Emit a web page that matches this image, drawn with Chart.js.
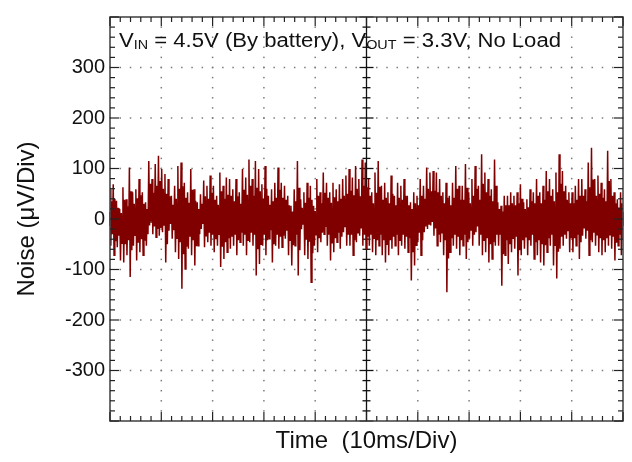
<!DOCTYPE html>
<html><head><meta charset="utf-8">
<script src="https://cdn.jsdelivr.net/npm/chart.js@4.4.1/dist/chart.umd.min.js"></script>
<style>html,body{margin:0;padding:0;background:#fff}#wrap{width:632px;height:462px}</style>
</head><body><div id="wrap"><canvas id="c" width="632" height="462"></canvas></div>
<script>
// Major divisions (10 ms/div on time, 100 uV/div on noise)
const timeDivs = [0,10,20,30,40,50,60,70,80,90,100];
const noiseTicks = [-400,-300,-200,-100,0,100,200,300,400];

// Noise trace: per time slot, the outer upper / lower spikes (uV)
const noiseHigh = [
  59,69,36,20,63,39,102,53,59,79,53,33,115,79,109,125,99,89,79,46,66,105,112,72,53,99,59,33,49,76,66,86,66,46,92,66,82,79,59,
  79,53,99,82,118,79,115,99,69,105,46,59,72,102,72,66,46,26,59,115,39,53,72,66,26,79,53,92,72,53,72,59,69,79,86,99,82,105,79,118,112,
  79,53,92,115,66,72,53,86,46,72,66,79,46,33,53,46,79,66,102,92,95,92,79,53,72,46,72,105,66,66,109,53,79,105,66,128,92,79,59,118,
  33,26,46,46,53,46,53,69,33,39,59,53,79,53,66,95,79,59,92,128,95,66,53,53,66,79,79,59,112,141,79,86,72,59,135,79,53,39,53
];
const noiseLow = [
  -53,-72,-56,-82,-86,-72,-115,-53,-82,-66,-72,-53,-13,-30,-36,-33,-26,-86,-23,-39,-66,-79,-138,-99,-59,-72,-92,-53,-20,-56,-46,-53,-66,-53,-95,-79,-66,-59,-53,
  -72,-46,-53,-72,-46,-53,-112,-89,-53,-72,-39,-86,-53,-59,-56,-39,-72,-92,-53,-112,-20,-72,-79,-125,-53,-66,-46,-30,-53,-82,-66,-46,-59,-26,-53,-53,-72,-46,-33,-53,-59,
  -53,-66,-72,-53,-72,-86,-72,-59,-53,-72,-53,-59,-66,-122,-92,-46,-72,-26,-20,-13,-33,-53,-46,-72,-145,-66,-53,-59,-72,-53,-79,-39,-53,-26,-53,-72,-66,-86,-79,-53,
  -53,-132,-72,-89,-66,-59,-112,-72,-59,-72,-53,-79,-72,-86,-92,-66,-53,-92,-118,-59,-53,-39,-66,-66,-53,-79,-33,-39,-72,-46,-53,-66,-72,-66,-53,-59,-82,-53,-72
];
// ... and the edges of the solid inner band at the same slots (uV)
const bandHigh = [
  35,40,22,12,38,25,55,30,41,47,30,20,70,52,66,75,60,50,45,28,40,60,65,42,32,58,36,20,30,45,40,52,38,28,55,40,48,46,35,
  45,30,58,48,66,46,62,55,40,60,28,35,42,58,42,38,27,15,35,62,22,32,42,38,16,46,31,52,42,32,43,35,40,46,50,56,47,60,45,66,63,
  46,31,52,64,38,42,31,50,27,42,38,46,27,20,31,27,46,40,60,55,56,53,46,31,42,27,42,60,38,38,62,31,46,60,38,70,53,46,35,66,
  20,15,27,27,31,27,31,40,20,23,35,31,46,31,38,55,46,35,53,70,55,38,31,31,38,46,46,35,63,78,46,50,42,35,75,46,31,23,31
];
const bandLow = [
  -30,-44,-33,-48,-50,-42,-62,-32,-47,-40,-43,-30,-5,-15,-20,-18,-12,-50,-10,-22,-38,-46,-70,-55,-35,-42,-54,-30,-10,-33,-27,-31,-40,-30,-55,-46,-38,-35,-31,
  -42,-27,-31,-42,-27,-31,-60,-50,-31,-42,-22,-50,-31,-35,-33,-23,-42,-52,-31,-62,-10,-41,-45,-68,-31,-38,-27,-16,-31,-47,-38,-27,-35,-15,-31,-31,-42,-27,-19,-31,-35,
  -31,-38,-42,-31,-42,-50,-42,-35,-31,-42,-31,-35,-38,-66,-52,-27,-42,-15,-10,-6,-19,-31,-27,-42,-78,-38,-31,-35,-42,-31,-46,-22,-31,-15,-31,-42,-38,-50,-46,-31,
  -31,-70,-42,-50,-38,-35,-62,-42,-35,-42,-31,-46,-42,-50,-52,-38,-31,-52,-65,-35,-31,-23,-38,-38,-31,-46,-19,-23,-42,-27,-31,-38,-42,-38,-31,-35,-47,-31,-42
];

const titleParts = [['V',0],['IN',1],[' = 4.5V (By battery), V',0],['OUT',1],[' = 3.3V, No Load',0]];
const yTitle = 'Noise (\u03BCV/Div)';
const xTitle = 'Time  (10ms/Div)';

// order the readings along the time axis: spike up, spike down, band top, band bottom
const trace = [];
for (let i = 0; i < noiseHigh.length; i++) {
  trace.push(noiseHigh[i]); trace.push(noiseLow[i]); trace.push(bandHigh[i]); trace.push(bandLow[i]);
}
const tStart = timeDivs[0], tEnd = timeDivs[timeDivs.length-1];
const points = trace.map((v, i) => ({x: tStart + (tEnd - tStart) * i / (trace.length - 1), y: v}));

function minorList(arr) {
  const out = [];
  for (let i = 0; i < arr.length - 1; i++) for (let k = 0; k < 5; k++) out.push(arr[i] + (arr[i+1]-arr[i]) * k / 5);
  out.push(arr[arr.length-1]);
  return out;
}
const FONT = '"Liberation Sans", Arial, sans-serif';

const scope = {
  id: 'scope',
  beforeDatasetsDraw(chart) {
    const {ctx, chartArea: a, scales: {x, y}} = chart;
    const xm = minorList(timeDivs), ym = minorList(noiseTicks);
    const midT = timeDivs[5], zeroV = 0;
    ctx.save();
    ctx.fillStyle = '#7c7c7c';
    timeDivs.slice(1,-1).forEach(tv => {
      if (tv === midT) return;
      const px = x.getPixelForValue(tv);
      ym.forEach(v => { const py = y.getPixelForValue(v); ctx.fillRect(px-0.75, py-0.75, 1.5, 1.5); });
    });
    noiseTicks.slice(1,-1).forEach(nv => {
      if (nv === zeroV) return;
      const py = y.getPixelForValue(nv);
      xm.forEach(t => { const px = x.getPixelForValue(t); ctx.fillRect(px-0.75, py-0.75, 1.5, 1.5); });
    });
    // crosshair
    const cx = x.getPixelForValue(midT), cy = y.getPixelForValue(zeroV);
    ctx.strokeStyle = '#111'; ctx.lineWidth = 1.3;
    const line = (x1,y1,x2,y2) => { ctx.beginPath(); ctx.moveTo(x1,y1); ctx.lineTo(x2,y2); ctx.stroke(); };
    line(cx, a.top, cx, a.bottom); line(a.left, cy, a.right, cy);
    xm.forEach((t, i) => { const px = x.getPixelForValue(t); const c = i % 5 === 0 ? 7 : 4; line(px, cy-c, px, cy+c); });
    ym.forEach((v, i) => { const py = y.getPixelForValue(v); const c = i % 5 === 0 ? 7 : 4; line(cx-c, py, cx+c, py); });
    ctx.restore();
  },
  afterDatasetsDraw(chart) {
    const {ctx, chartArea: a, scales: {x, y}} = chart;
    const xm = minorList(timeDivs), ym = minorList(noiseTicks);
    ctx.save();
    const line = (x1,y1,x2,y2) => { ctx.beginPath(); ctx.moveTo(x1,y1); ctx.lineTo(x2,y2); ctx.stroke(); };
    ctx.strokeStyle = '#4a4a4a'; ctx.lineWidth = 1.6;
    ctx.strokeRect(a.left, a.top, a.right - a.left, a.bottom - a.top);
    ctx.strokeStyle = '#222'; ctx.lineWidth = 1.2;
    xm.forEach((t, i) => { const px = x.getPixelForValue(t); const L = i % 5 === 0 ? 9 : 5; line(px, a.bottom, px, a.bottom-L); line(px, a.top, px, a.top+L); });
    ym.forEach((v, i) => { const py = y.getPixelForValue(v); const L = i % 5 === 0 ? 9 : 5; line(a.left, py, a.left+L, py); line(a.right, py, a.right-L, py); });
    // title inside plot with subscripts
    const mainF = '20px ' + FONT, subF = '13px ' + FONT;
    let w = 0;
    titleParts.forEach(([s, sub]) => { ctx.font = sub ? subF : mainF; w += ctx.measureText(s).width; });
    const target = 442, sx = target / w;
    ctx.translate(a.left + 9, 47);
    ctx.scale(sx, 1);
    ctx.fillStyle = '#111'; ctx.textBaseline = 'alphabetic'; ctx.textAlign = 'left';
    let xx = 0;
    titleParts.forEach(([s, sub]) => { ctx.font = sub ? subF : mainF; ctx.fillText(s, xx, sub ? 2 : 0); xx += ctx.measureText(s).width; });
    ctx.restore();
  }
};

new Chart(document.getElementById('c'), {
  type: 'line',
  data: { datasets: [{ data: points, borderColor: '#800000', borderWidth: 1.5, pointRadius: 0, tension: 0, fill: false }] },
  options: {
    responsive: false, animation: false, devicePixelRatio: 1,
    layout: { padding: { left: 0, right: 9, top: 17, bottom: 0 } },
    plugins: { legend: { display: false }, tooltip: { enabled: false }, title: { display: false } },
    scales: {
      x: {
        type: 'linear', min: timeDivs[0], max: timeDivs[timeDivs.length-1],
        grid: { display: false }, border: { display: false },
        ticks: { display: false },
        title: { display: true, text: xTitle, color: '#111', font: { family: FONT, size: 24 }, padding: { top: 0, bottom: 6 } },
        afterFit(s) { s.height = 41; }
      },
      y: {
        min: noiseTicks[0], max: noiseTicks[noiseTicks.length-1],
        grid: { display: false, drawTicks: false }, border: { display: false },
        ticks: { stepSize: 100, padding: 5, color: '#111', font: { family: FONT, size: 20 },
          callback: v => (v === noiseTicks[0] || v === noiseTicks[noiseTicks.length-1]) ? '' : String(v) },
        title: { display: true, text: yTitle, color: '#111', font: { family: FONT, size: 24 }, padding: { top: 13, bottom: 0 } },
        afterFit(s) { s.width = 110; }
      }
    }
  },
  plugins: [scope]
});
</script></body></html>
